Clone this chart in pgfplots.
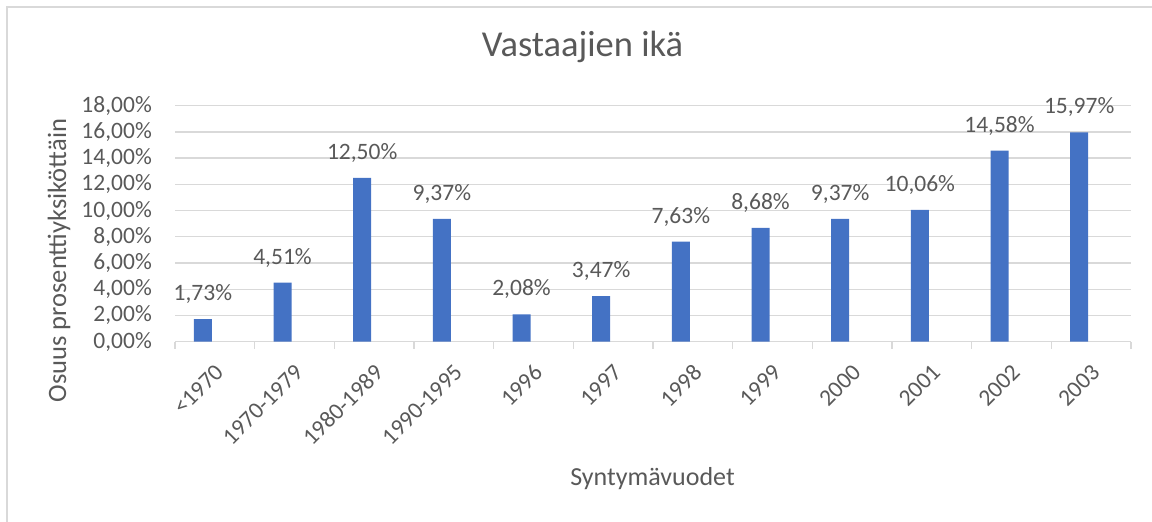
\documentclass[border=0pt]{standalone}
\usepackage{pgfplots}
\pgfplotsset{compat=1.18}
\usepackage{fontspec}
\setmainfont{Carlito}
\definecolor{barblue}{HTML}{4472C4}
\definecolor{gridgray}{HTML}{D9D9D9}
\definecolor{txtgray}{HTML}{595959}
\begin{document}
\begin{tikzpicture}
\useasboundingbox (0,0) rectangle (1152pt,522pt);
\draw[gridgray, line width=1.3pt] (7pt,-10pt) rectangle (1165pt,515pt);
\begin{axis}[
  at={(175pt,180.3pt)}, anchor=south west,
  scale only axis, width=956pt, height=236pt,
  xmin=-0.5, xmax=11.5, ymin=0, ymax=18,
  axis x line*=bottom, axis y line*=left,
  x axis line style={draw=gridgray, line width=1.3pt, -},
  y axis line style={draw=none},
  ytick={0,2,...,18},
  yticklabels={{0,00\%},{2,00\%},{4,00\%},{6,00\%},{8,00\%},{10,00\%},{12,00\%},{14,00\%},{16,00\%},{18,00\%}},
  xtick={0,...,11},
  xticklabels={<1970,1970-1979,1980-1989,1990-1995,1996,1997,1998,1999,2000,2001,2002,2003},
  minor xtick={-0.5,0.5,...,11.5},
  major tick length=0pt,
  minor tick length=7pt,
  tick align=outside,
  minor x tick style={draw=gridgray, line width=1.3pt},
  ymajorgrids,
  grid style={draw=gridgray, line width=1.3pt},
  tick label style={font=\fontsize{23.5}{28}\selectfont, text=txtgray},
  yticklabel style={anchor=east, inner sep=0pt, xshift=-23pt},
  xticklabel style={inner sep=0pt, xshift=-1pt, yshift=-21pt, rotate=45, anchor=north east},
  title={Vastaajien ikä},
  title style={at={(axis description cs:0.4263,1.181)}, anchor=base, font=\fontsize{36.5}{40}\selectfont, text=txtgray},
  xlabel={Syntymävuodet},
  xlabel style={at={(axis description cs:0.4995,-0.611)}, anchor=base, font=\fontsize{26}{30}\selectfont, text=txtgray},
  ylabel={Osuus prosenttiyksiköttäin},
  ylabel style={at={(axis description cs:-0.114,0.344)}, rotate=0, anchor=base, font=\fontsize{26.5}{30}\selectfont, text=txtgray},
  ybar, bar width=18pt, bar shift=-12pt,
  nodes near coords,
  point meta=explicit symbolic,
  every node near coord/.append style={anchor=base, yshift=18.5pt, font=\fontsize{23.5}{28}\selectfont, text=txtgray},
]
\addplot[fill=barblue, draw=none] coordinates {
  (0,1.73) [{1,73\%}]
  (1,4.51) [{4,51\%}]
  (2,12.50) [{12,50\%}]
  (3,9.37) [{9,37\%}]
  (4,2.08) [{2,08\%}]
  (5,3.47) [{3,47\%}]
  (6,7.63) [{7,63\%}]
  (7,8.68) [{8,68\%}]
  (8,9.37) [{9,37\%}]
  (9,10.06) [{10,06\%}]
  (10,14.58) [{14,58\%}]
  (11,15.97) [{15,97\%}]
};
\end{axis}
\end{tikzpicture}
\end{document}
